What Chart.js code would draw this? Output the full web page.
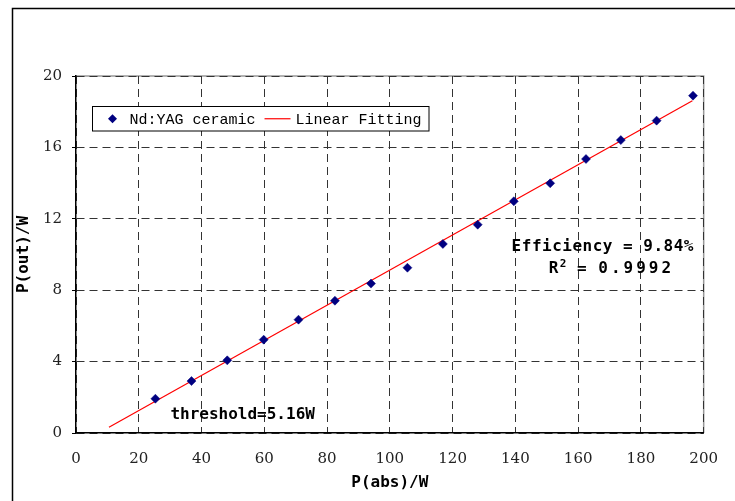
<!DOCTYPE html>
<html lang="en">
<head>
<meta charset="UTF-8">
<title>P(out) vs P(abs)</title>
<script src="https://cdn.jsdelivr.net/npm/chart.js@4.4.0/dist/chart.umd.min.js"></script>
<style>
  html, body { margin:0; padding:0; background:#fff; }
  #wrap { width:735px; height:501px; }
</style>
<script>
// absorbed pump power (W) and laser output power (W)
const pAbs = [25.3, 36.8, 48.2, 59.8, 70.9, 82.5, 94.0, 105.6, 116.9, 128.0, 139.5, 151.1, 162.5, 173.6, 185.0, 196.6];
const pOut = [1.92, 2.91, 4.07, 5.23, 6.35, 7.41, 8.37, 9.26, 10.59, 11.67, 12.98, 13.99, 15.35, 16.41, 17.50, 18.90];

// end points of the linear fit
const fitX = [10.5, 196.4];
const fitY = [0.32, 18.61];

const xTicks = [0, 20, 40, 60, 80, 100, 120, 140, 160, 180, 200];
const yTicks = [0, 4, 8, 12, 16, 20];
const seriesNames = ['Nd:YAG ceramic', 'Linear Fitting'];
</script>
</head>
<body>
<div id="wrap"><canvas id="myChart" width="735" height="501"></canvas></div>
<script>
  const boldMono = 'bold 16px "DejaVu Sans Mono", monospace';

  const extras = {
    id: 'extras',
    beforeDraw(chart) {
      const {ctx, chartArea: a} = chart;
      ctx.save();
      ctx.fillStyle = '#fff';
      ctx.fillRect(0, 0, chart.width, chart.height);
      // outer frame
      ctx.strokeStyle = '#000';
      ctx.lineWidth = 1.5;
      ctx.strokeRect(12.5, 8.5, chart.width, chart.height);
      // top / right edge of plot
      ctx.strokeStyle = '#999';
      ctx.lineWidth = 1.5;
      ctx.beginPath();
      ctx.moveTo(a.left, a.top);
      ctx.lineTo(a.right, a.top);
      ctx.lineTo(a.right, a.bottom);
      ctx.stroke();
      ctx.restore();
    },
    afterDatasetsDraw(chart) {
      const {ctx, chartArea: a, scales: {x, y}} = chart;
      ctx.save();

      // legend box
      const bx = a.left + 16.5, by = a.top + 30.5, bw = 336.5, bh = 24.5;
      ctx.fillStyle = '#fff';
      ctx.fillRect(bx, by, bw, bh);
      ctx.strokeStyle = '#000';
      ctx.lineWidth = 1;
      ctx.strokeRect(bx, by, bw, bh);
      const cy = by + bh / 2;
      let cx = bx + 20;
      ctx.fillStyle = '#000080';
      ctx.beginPath();
      ctx.moveTo(cx, cy - 4.5); ctx.lineTo(cx + 4.5, cy); ctx.lineTo(cx, cy + 4.5); ctx.lineTo(cx - 4.5, cy);
      ctx.closePath();
      ctx.fill();
      ctx.font = '15px "Liberation Mono", monospace';
      ctx.fillStyle = '#000';
      ctx.textBaseline = 'middle';
      ctx.textAlign = 'left';
      cx += 17;
      ctx.fillText(seriesNames[0], cx, cy + 1);
      cx += ctx.measureText(seriesNames[0]).width + 9;
      ctx.strokeStyle = '#ff0000';
      ctx.lineWidth = 1.2;
      ctx.beginPath();
      ctx.moveTo(cx, cy); ctx.lineTo(cx + 26, cy);
      ctx.stroke();
      cx += 31;
      ctx.fillText(seriesNames[1], cx, cy + 1);

      // fit annotations
      ctx.font = boldMono;
      ctx.textBaseline = 'alphabetic';
      ctx.textAlign = 'left';
      ctx.letterSpacing = '0.5px';
      ctx.fillText('Efficiency = 9.84%', x.getPixelForValue(138.8), y.getPixelForValue(10.17));
      ctx.letterSpacing = '0px';
      ctx.textAlign = 'center';
      ctx.fillText('threshold=5.16W', x.getPixelForValue(53.1), y.getPixelForValue(0.77));

      // R^2 with superscript
      ctx.textAlign = 'left';
      const supFont = 'bold 11px "DejaVu Sans Mono", monospace';
      let rx = x.getPixelForValue(150.6);
      const ry = y.getPixelForValue(8.96);
      ctx.fillText('R', rx, ry);
      rx += ctx.measureText('R').width + 1.5;
      ctx.font = supFont;
      ctx.fillText('2', rx, ry - 6);
      rx += ctx.measureText('2').width + 1;
      ctx.font = boldMono;
      ctx.fillText(' = ', rx, ry);
      rx += ctx.measureText(' = ').width + 2;
      ctx.letterSpacing = '3px';
      ctx.fillText('0.9992', rx, ry);
      ctx.letterSpacing = '0px';

      ctx.restore();
    }
  };

  const ctx = document.getElementById('myChart').getContext('2d');
  const myChart = new Chart(ctx, {
    type: 'scatter',
    data: {
      datasets: [{
        label: seriesNames[0],
        data: pAbs.map((v, i) => ({x: v, y: pOut[i]})),
        pointStyle: 'rectRot',
        pointRadius: 4.5,
        pointBorderWidth: 0.5,
        backgroundColor: '#000080',
        borderColor: '#000080',
        order: 1
      }, {
        type: 'line',
        label: seriesNames[1],
        data: fitX.map((v, i) => ({x: v, y: fitY[i]})),
        borderColor: '#ff0000',
        borderWidth: 1.2,
        pointRadius: 0,
        fill: false,
        order: 2
      }]
    },
    options: {
      responsive: false,
      animation: false,
      layout: { padding: { top: 76, right: 29.5, left: 0, bottom: 0 } },
      plugins: { legend: { display: false }, tooltip: { enabled: false } },
      scales: {
        x: {
          type: 'linear',
          min: xTicks[0],
          max: xTicks[xTicks.length - 1],
          afterBuildTicks: s => { s.ticks = xTicks.map(v => ({value: v})); },
          afterFit: s => { s.height = 68; },
          grid: { color: '#333', lineWidth: 1, drawTicks: false },
          border: { display: true, color: '#000', width: 1.5, dash: [8, 5] },
          ticks: { color: '#222', padding: 17, font: { family: '"DejaVu Serif", serif', size: 15 } },
          title: {
            display: true, text: 'P(abs)/W', color: '#000',
            font: { family: '"DejaVu Sans Mono", monospace', size: 16, weight: 'bold' },
            padding: { top: 0, bottom: 9 }
          }
        },
        y: {
          type: 'linear',
          min: yTicks[0],
          max: yTicks[yTicks.length - 1],
          afterBuildTicks: s => { s.ticks = yTicks.map(v => ({value: v})); },
          afterFit: s => { s.width = 76; },
          grid: { color: '#333', lineWidth: 1, drawTicks: true, tickLength: 4, tickColor: '#000', tickBorderDash: [] },
          border: { display: true, color: '#000', width: 1.5, dash: [8, 5] },
          ticks: { color: '#222', padding: 10, font: { family: '"DejaVu Serif", serif', size: 15 } },
          title: {
            display: true, text: 'P(out)/W', color: '#000',
            font: { family: '"DejaVu Sans Mono", monospace', size: 16, weight: 'bold' },
            padding: { top: 14, bottom: 0 }
          }
        }
      }
    },
    plugins: [extras]
  });
</script>
</body>
</html>
